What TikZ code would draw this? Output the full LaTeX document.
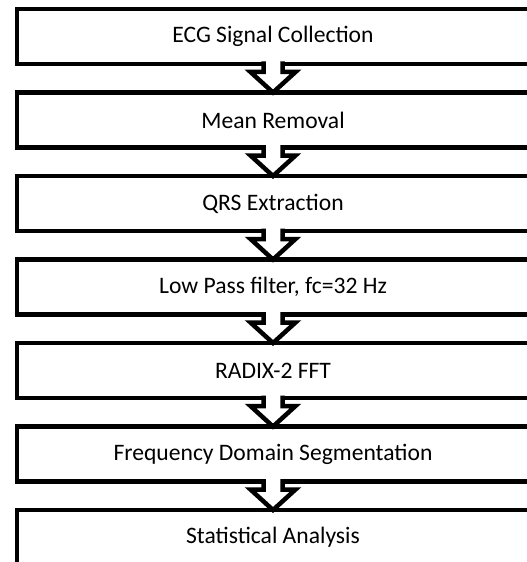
\documentclass[tikz,border=0pt]{standalone}
\usepackage{fontspec}
\setmainfont{Carlito}
\usetikzlibrary{
  positioning,
  calc
}

\begin{document}
\begin{tikzpicture}[
    x=1bp, y=-1bp, font=\fontsize{23.6bp}{28bp}\selectfont,
    line width=4.5bp, line join=miter,
    node distance=28.5bp,
    stage/.style={
      rectangle,
      draw=black,
      fill=white,
      outer sep=0pt,
      minimum width=512bp,
      minimum height=55bp
    },
    flowarrow/.style={
      draw=black,
      fill=white
    }
  ]
  \useasboundingbox (0,0) rectangle (527,562);
  \clip (0,0) rectangle (527,562);

  \node[stage] (collect) at (273,36.5) {ECG Signal Collection};
  \node[stage, below=of collect] (mean) {Mean Removal};
  \node[stage, below=of mean] (qrs) {QRS Extraction};
  \node[stage, below=of qrs] (lowpass) {Low Pass filter, fc=32 Hz};
  \node[stage, below=of lowpass] (fft) {RADIX-2 FFT};
  \node[stage, below=of fft] (segment) {Frequency Domain Segmentation};
  \node[stage, below=of segment] (stats) {Statistical Analysis};

  % block arrows between the stages
  \foreach \a/\b in {collect/mean, mean/qrs, qrs/lowpass, lowpass/fft, fft/segment, segment/stats}
    \path[flowarrow] ($(\a.south)+(-9.5,-2.5)$) -- ++(0,10.5) -- ++(-13,0)
      -- (\b.north) -- ++(22.5,-20.5) -- ++(-13,0) -- ++(0,-10.5);
\end{tikzpicture}
\end{document}
